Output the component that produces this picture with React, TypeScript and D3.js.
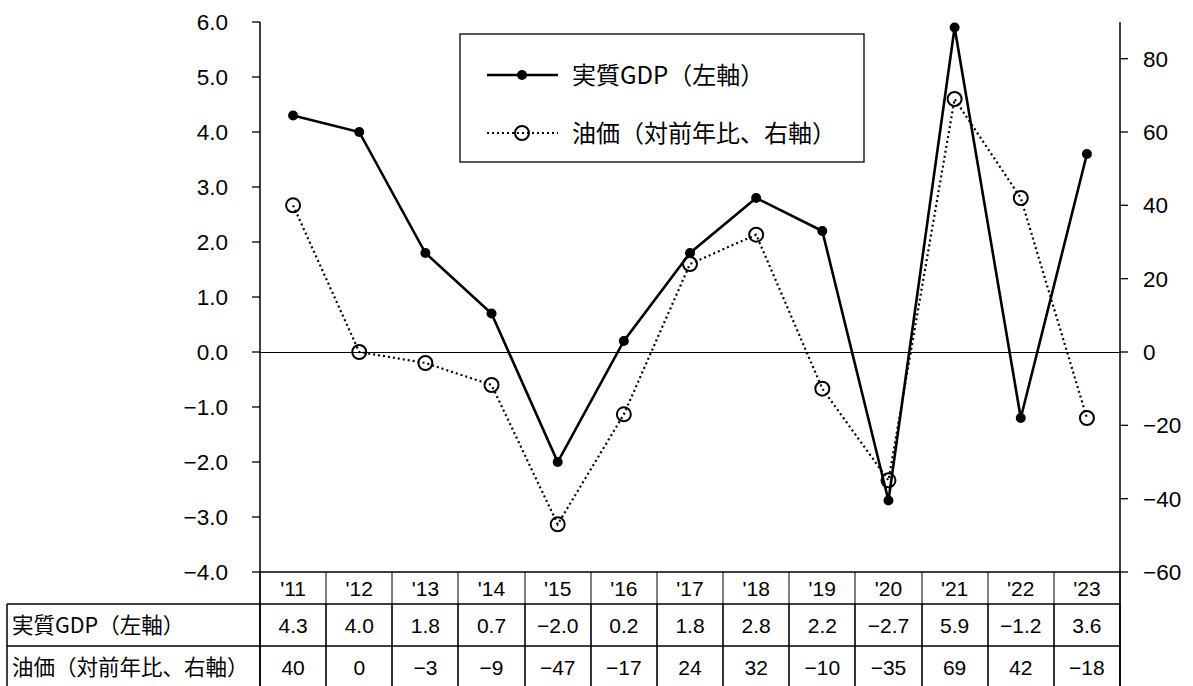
import React from "react";
import * as d3 from "d3";

const years = ["'11", "'12", "'13", "'14", "'15", "'16", "'17", "'18", "'19", "'20", "'21", "'22", "'23"];
const gdp = [4.3, 4.0, 1.8, 0.7, -2.0, 0.2, 1.8, 2.8, 2.2, -2.7, 5.9, -1.2, 3.6];
const oil = [40, 0, -3, -9, -47, -17, 24, 32, -10, -35, 69, 42, -18];
const leftTicks = [-4, -3, -2, -1, 0, 1, 2, 3, 4, 5, 6];
const rightTicks = [-60, -40, -20, 0, 20, 40, 60, 80];
const gdpLabel = "実質GDP（左軸）";
const oilLabel = "油価（対前年比、右軸）";

const W = 1193;
const H = 686;
const L = 260;
const R = 1120;
const T = 22;
const B = 572;
const rowLines = [572, 604, 646, 692];
const labelLeft = 7;

const fmtMinus = (s: string) => s.replace("-", "\u2212");
const FONT = "'Liberation Sans', Arial, 'Noto Sans CJK JP', sans-serif";
const JFONT = "'Noto Sans CJK JP', 'Liberation Sans', sans-serif";

export default function App() {
  const x = d3.scaleBand<string>().domain(years).range([L, R]).paddingInner(0).paddingOuter(0);
  const yL = d3.scaleLinear().domain([-4, 6]).range([B, T]);
  const yR = d3.scaleLinear().domain([-60, 90]).range([B, T]);
  const cx = (i: number) => (x(years[i]) as number) + x.bandwidth() / 2;

  const gdpLine = d3
    .line<number>()
    .x((_, i) => cx(i))
    .y((d) => yL(d))(gdp) as string;
  const oilLine = d3
    .line<number>()
    .x((_, i) => cx(i))
    .y((d) => yR(d))(oil) as string;

  const boundaries = years.map((y) => Math.round(x(y) as number)).concat([R]);

  return (
    <svg width={W} height={H} style={{ position: "absolute", left: 0, top: 0, background: "#fff" }}>
      <rect x={0} y={0} width={W} height={H} fill="#fff" />
      {/* zero line */}
      <line x1={L} x2={R} y1={Math.round(yL(0)) + 0.5} y2={Math.round(yL(0)) + 0.5} stroke="#000" strokeWidth={1} />
      {/* left axis */}
      <line x1={L} x2={L} y1={T} y2={rowLines[3]} stroke="#000" strokeWidth={1.5} />
      {leftTicks.map((t) => (
        <g key={"l" + t}>
          <line x1={L - 8} x2={L} y1={yL(t)} y2={yL(t)} stroke="#000" strokeWidth={1.3} />
          <text
            x={228}
            y={yL(t)}
            dy="0.36em"
            textAnchor="end"
            fontFamily={FONT}
            fontSize={22.5}
            fill="#000"
          >
            {fmtMinus(t.toFixed(1))}
          </text>
        </g>
      ))}
      {/* right axis */}
      <line x1={R} x2={R} y1={T} y2={rowLines[3]} stroke="#000" strokeWidth={1.5} />
      {rightTicks.map((t) => (
        <g key={"r" + t}>
          <line x1={R} x2={R + 8} y1={yR(t)} y2={yR(t)} stroke="#000" strokeWidth={1.3} />
          <text x={1143} y={yR(t)} dy="0.36em" textAnchor="start" fontFamily={FONT} fontSize={22.5} fill="#000">
            {fmtMinus(String(t))}
          </text>
        </g>
      ))}
      {/* table */}
      <line x1={L} x2={R} y1={rowLines[0]} y2={rowLines[0]} stroke="#000" strokeWidth={1.5} />
      {rowLines.slice(1, 3).map((ry) => (
        <line key={"h" + ry} x1={labelLeft} x2={R} y1={ry} y2={ry} stroke="#000" strokeWidth={1.5} />
      ))}
      <line x1={labelLeft} x2={labelLeft} y1={rowLines[1]} y2={rowLines[3]} stroke="#000" strokeWidth={1.5} />
      {boundaries.map((bx, i) => (
        <g key={"v" + i}>
          <line x1={bx} x2={bx} y1={rowLines[0]} y2={rowLines[1]} stroke="#000" strokeWidth={1} />
          <line x1={bx} x2={bx} y1={rowLines[1]} y2={rowLines[3]} stroke="#000" strokeWidth={1.6} />
        </g>
      ))}
      {years.map((yr, i) => (
        <g key={"t" + yr}>
          <text x={cx(i)} y={588} dy="0.36em" textAnchor="middle" fontFamily={FONT} fontSize={21}>
            {yr}
          </text>
          <text x={cx(i)} y={625} dy="0.36em" textAnchor="middle" fontFamily={FONT} fontSize={21}>
            {fmtMinus(gdp[i].toFixed(1))}
          </text>
          <text x={cx(i)} y={667} dy="0.36em" textAnchor="middle" fontFamily={FONT} fontSize={21}>
            {fmtMinus(String(oil[i]))}
          </text>
        </g>
      ))}
      <text x={12} y={625} dy="0.36em" fontFamily={JFONT} fontSize={21.5}>
        {gdpLabel}
      </text>
      <text x={12} y={667} dy="0.36em" fontFamily={JFONT} fontSize={21.5}>
        {oilLabel}
      </text>
      {/* series */}
      <path d={oilLine} fill="none" stroke="#000" strokeWidth={2.2} strokeDasharray="2 3" />
      {oil.map((v, i) => (
        <circle key={"o" + i} cx={cx(i)} cy={yR(v)} r={7} fill="none" stroke="#000" strokeWidth={2} />
      ))}
      <path d={gdpLine} fill="none" stroke="#000" strokeWidth={2.6} />
      {gdp.map((v, i) => (
        <circle key={"g" + i} cx={cx(i)} cy={yL(v)} r={5} fill="#000" />
      ))}
      {/* legend */}
      <rect x={460} y={34} width={404} height={128} fill="#fff" stroke="#000" strokeWidth={1.3} />
      <line x1={487} x2={558} y1={75} y2={75} stroke="#000" strokeWidth={2.6} />
      <circle cx={522} cy={75} r={5} fill="#000" />
      <text x={572} y={75} dy="0.36em" fontFamily={JFONT} fontSize={24}>
        {gdpLabel}
      </text>
      <line x1={487} x2={558} y1={133} y2={133} stroke="#000" strokeWidth={2.2} strokeDasharray="2 3" />
      <circle cx={522} cy={133} r={7} fill="none" stroke="#000" strokeWidth={2} />
      <text x={572} y={133} dy="0.36em" fontFamily={JFONT} fontSize={24}>
        {oilLabel}
      </text>
    </svg>
  );
}
